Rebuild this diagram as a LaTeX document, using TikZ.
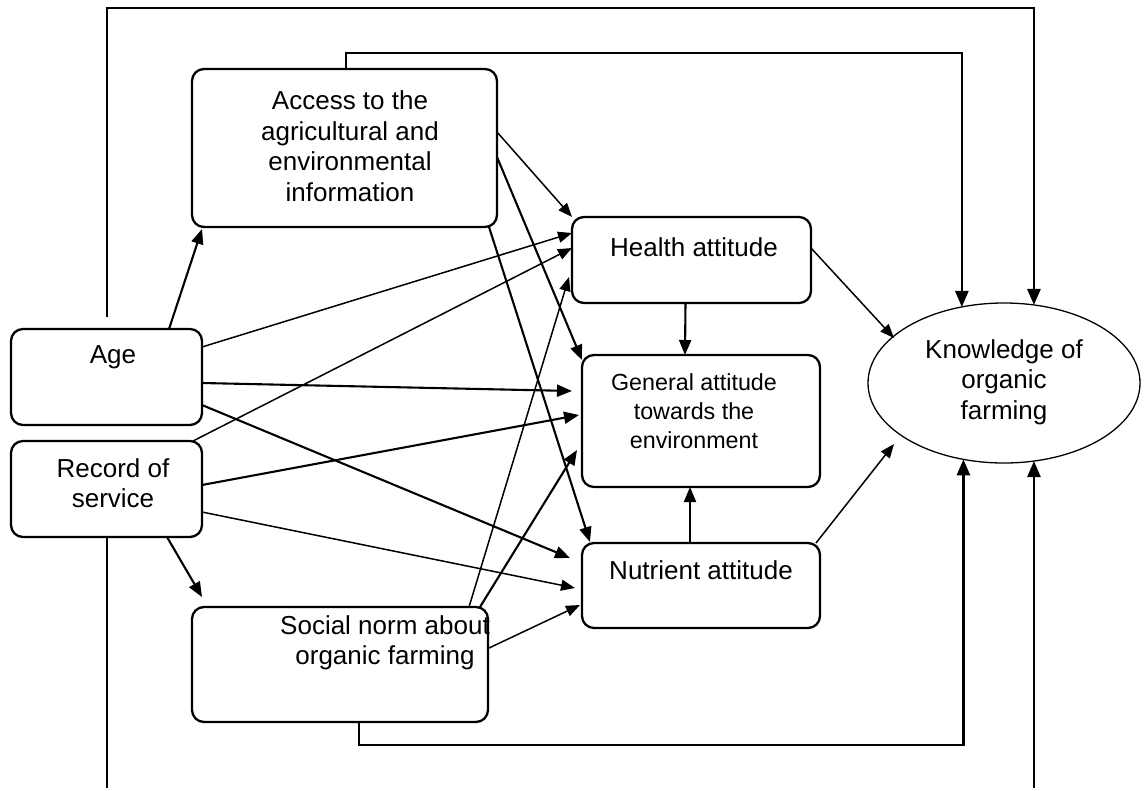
\documentclass[tikz,border=0pt]{standalone}
\usepackage{fontspec}
\setmainfont{Liberation Sans}
\usetikzlibrary{calc,
	positioning,
	shapes,
	arrows.meta}

\tikzset{
	box/.style={draw, line width=2.3pt, rounded corners=12pt, inner sep=0pt, outer sep=0pt},
	oval/.style={draw, ellipse, line width=1.3pt, inner sep=0pt, outer sep=0pt},
	txt/.style={align=center, inner sep=0pt, font=\fontsize{26}{30.5}\selectfont},
	smalltxt/.style={align=center, inner sep=0pt, font=\fontsize{23.3}{29}\selectfont},
	arr/.style={line width=1.5pt, -{Triangle[length=14pt,width=11pt]}},
	arrb/.style={line width=2.1pt, -{Triangle[length=15pt,width=12pt]}},
	frame/.style={line width=2.7pt},
	framearr/.style={line width=2.7pt, -{Triangle[length=16pt,width=13pt]}}
}

\begin{document}
\begin{tikzpicture}[x=1pt,y=-1pt]
	\useasboundingbox (0,0) rectangle (1146,790);
	\node[box, minimum width=305pt, minimum height=158pt] (access) at (344.5,148) {};
	\node[box, minimum width=191pt, minimum height=96pt] (age) at (106.5,377) {};
	\node[box, minimum width=191pt, minimum height=96pt] (record) at (106.5,489) {};
	\node[box, minimum width=296pt, minimum height=115pt] (social) at (340,664.5) {};
	\node[box, minimum width=239pt, minimum height=86pt] (health) at (691.5,260) {};
	\node[box, minimum width=238pt, minimum height=132pt] (general) at (701,421) {};
	\node[box, minimum width=238pt, minimum height=85pt] (nutrient) at (701,585.5) {};
	\node[oval, minimum width=272pt, minimum height=160pt] (knowledge) at (1004,383) {};

	\node[txt] (accesstxt) at (350,146) {Access to the\\agricultural and\\environmental\\information};
	\node[txt] (agetxt) at (113,357) {Age};
	\node[txt] (recordtxt) at (113,483) {Record of\\service};
	\node[txt] (socialtxt) at (385,643) {Social norm about\\organic farming};
	\node[txt] (healthtxt) at (694,247) {Health attitude};
	\node[smalltxt] (generaltxt) at (694,411) {General attitude\\towards the\\environment};
	\node[txt] (nutrienttxt) at (701,570) {Nutrient attitude};
	\node[txt] (knowledgetxt) at (1004,382) {Knowledge of\\organic\\farming};

	\draw[arrb] ($(age.north west)+(158,0)$) -- ($(access.south west)+(10,2)$);
	\draw[arr] ($(age.north east)+(0,18)$) -- ($(health.north west)+(0,16)$);
	\draw[arrb] ($(age.north east)+(0,54)$) -- ($(general.north west)+(-10,36)$);
	\draw[arrb] ($(age.north east)+(0,76)$) -- ($(nutrient.north west)+(-12,15)$);
	\draw[arr] ($(record.north east)+(-9,0)$) -- ($(health.north west)+(0,31)$);
	\draw[arrb] ($(record.north east)+(0,44)$) -- ($(general.north west)+(-3,60)$);
	\draw[arr] ($(record.north east)+(0,71)$) -- ($(nutrient.north west)+(-7,45)$);
	\draw[arrb] ($(record.south east)+(-35,0)$) -- ($(social.north west)+(10,-10)$);
	\draw[arr] ($(access.north east)+(0,63)$) -- (health.north west);
	\draw[arrb] ($(access.north east)+(0,88)$) -- ($(general.north west)+(0,5)$);
	\draw[arrb] ($(access.south east)+(-8,0)$) -- ($(nutrient.north west)+(8,-1)$);
	\draw[arr] ($(social.north east)+(-19,0)$) -- ($(health.north west)+(-3,60)$);
	\draw[arrb] ($(social.north east)+(-8,0)$) -- ($(general.north west)+(-5,95)$);
	\draw[arr] ($(social.north east)+(1,41)$) -- ($(nutrient.north west)+(-2,62)$);
	\draw[arrb] ($(health.south)+(-6,0)$) -- ($(general.north)+(-16,0)$);
	\draw[arrb] ($(nutrient.north)+(-11,0)$) -- ($(general.south)+(-11,0)$);
	\draw[arr] ($(health.north east)+(0,31)$) -- ($(knowledge.center)+(-110,-45)$);
	\draw[arr] ($(nutrient.north east)+(-4,0)$) -- ($(knowledge.center)+(-110,61)$);

	\draw[framearr] ($(age.north)+(0.5,-12)$) -- ++(0,-309) -| (knowledge.69);
	\draw[framearr] ($(access.north)+(1.5,0)$) -- ++(0,-16) -| (knowledge.119);
	\draw[framearr] ($(social.south)+(19,0)$) -- ++(0,23) -| (knowledge.242);
	\draw[framearr] ($(knowledge.291)+(0,327)$) -- (knowledge.291);
	\draw[frame] ($(record.south)+(0.5,0)$) -- ++(0,251);
\end{tikzpicture}
\end{document}
